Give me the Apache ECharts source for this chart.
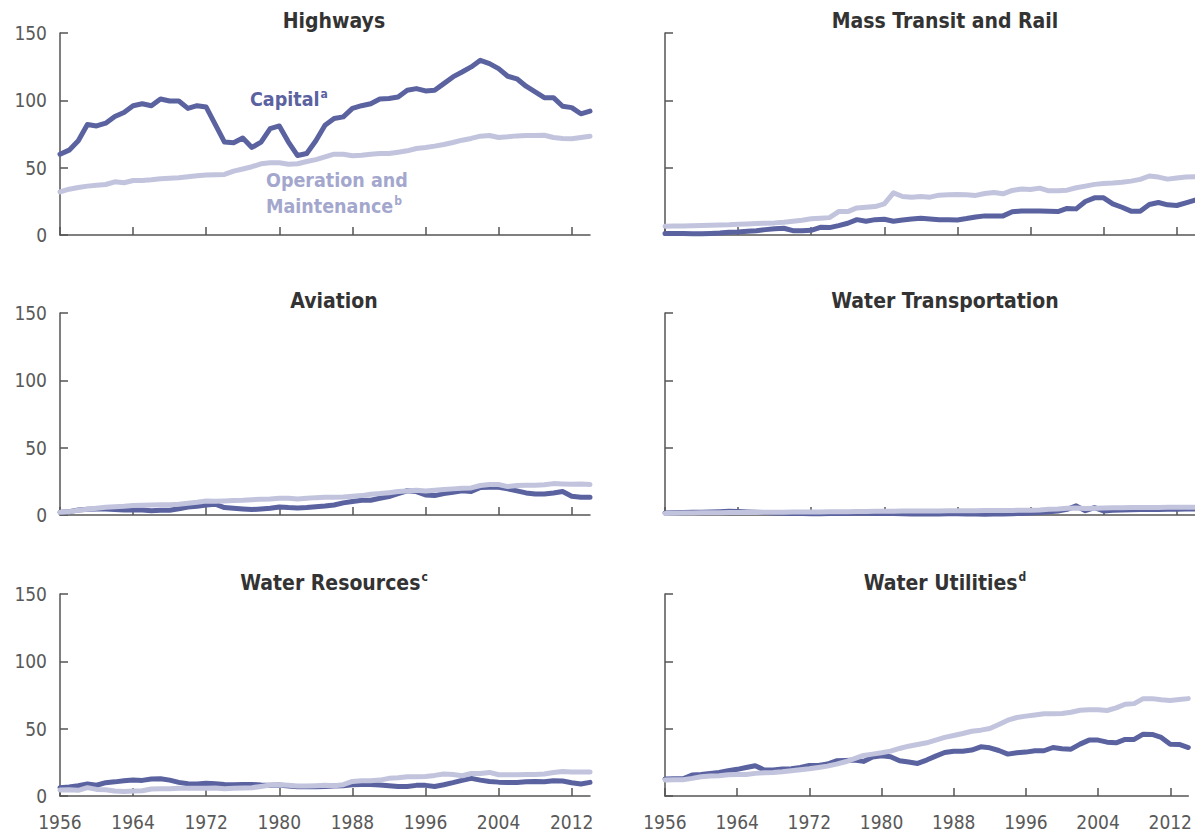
<!DOCTYPE html>
<html>
<head>
<meta charset="utf-8">
<title>Public spending on infrastructure</title>
<script src="https://cdn.jsdelivr.net/npm/echarts@6/dist/echarts.min.js"></script>
<style>
  html, body { margin: 0; padding: 0; background: #fff; }
  #chart { width: 1195px; height: 835px; }
  /* the reference uses a condensed face */
  #chart svg text, #chart svg tspan { font-stretch: condensed !important; }
</style>
</head>
<body>
<div id="chart"></div>
<script>
// years on the x axis
const years = [
  '1956','1957','1958','1959','1960','1961','1962','1963','1964','1965',
  '1966','1967','1968','1969','1970','1971','1972','1973','1974','1975',
  '1976','1977','1978','1979','1980','1981','1982','1983','1984','1985',
  '1986','1987','1988','1989','1990','1991','1992','1993','1994','1995',
  '1996','1997','1998','1999','2000','2001','2002','2003','2004','2005',
  '2006','2007','2008','2009','2010','2011','2012','2013','2014'
]
const yTicks = [0, 50, 100, 150]

// Highways
const highwaysCapital = [
  60, 63, 70, 82, 81, 83, 88, 91, 96, 97.5,
  96, 101, 99.5, 99.5, 94, 96, 95, 82, 69, 68.5,
  72, 65, 69, 79, 81, 69, 59, 60.5, 70, 81.5,
  86.5, 87.7, 94, 96, 97.5, 101, 101.3, 102.5, 107.5, 108.7,
  107, 107.5, 112.4, 117.4, 121, 124.8, 129.7, 127.3, 123.5, 117.9,
  116, 110.5, 106.3, 102, 102, 95.6, 94.6, 90, 92
]
const highwaysOM = [
  32, 34, 35.3, 36.3, 37, 37.5, 39.5, 38.8, 40.5, 40.5,
  41, 41.8, 42.2, 42.5, 43.2, 44, 44.5, 44.7, 45, 47.4,
  49, 50.7, 52.9, 53.6, 53.6, 52.6, 52.9, 54.6, 56, 58,
  60, 60, 58.8, 59.3, 60, 60.5, 60.5, 61.5, 62.5, 64.2,
  65, 66, 67.2, 68.7, 70.4, 71.7, 73.4, 73.9, 72.4, 72.9,
  73.6, 73.9, 73.9, 74.1, 72.4, 71.7, 71.4, 72.4, 73.4
]

// Mass Transit and Rail
const transitCapital = [
  1.2, 1.2, 1.2, 1, 1, 1.2, 1.5, 2, 2.2, 2.7,
  3.2, 4, 4.7, 5, 3.2, 3.2, 3.5, 5.7, 5.5, 7,
  8.7, 11.4, 10.2, 11.4, 11.7, 10.2, 11.2, 11.9, 12.4, 11.9,
  11.4, 11.4, 11.2, 12.2, 13.4, 14.2, 14.2, 14.2, 17.2, 17.9,
  17.9, 17.9, 17.7, 17.4, 19.7, 19.4, 24.9, 27.6, 27.6, 23.1,
  20.6, 17.7, 17.7, 22.6, 24.1, 22.4, 21.9, 23.9, 25.9
]
const transitOM = [
  6.5, 6.6, 6.7, 6.9, 7, 7.2, 7.4, 7.6, 8, 8.2,
  8.5, 8.8, 9, 9.5, 10.2, 11, 12, 12.4, 12.9, 17.4,
  17.4, 20.1, 20.6, 21.1, 23.1, 31.3, 28.6, 28.1, 28.6, 28.1,
  29.6, 29.9, 30.1, 29.9, 29.4, 30.8, 31.6, 30.6, 33.1, 34.1,
  33.8, 34.8, 32.8, 32.8, 33.3, 35.1, 36.3, 37.6, 38.3, 38.6,
  39.1, 40, 41.3, 43.8, 43, 41.5, 42.3, 43, 43.3
]

// Aviation
const aviationCapital = [
  2, 2.5, 3.7, 4.2, 4.5, 4.5, 4, 3.7, 3.7, 3.7,
  3.2, 3.5, 3.5, 4.7, 6, 6.5, 7.4, 8, 5.5, 5,
  4.5, 4, 4.5, 5, 6, 5.5, 5.2, 5.5, 6.2, 6.7,
  7.4, 9, 10, 11, 11, 12.4, 13.7, 15.9, 18, 17.4,
  14.9, 14.4, 15.9, 16.9, 18, 17.4, 20.4, 20.6, 20.6, 19.4,
  17.9, 16.4, 15.6, 15.6, 16.4, 17.4, 13.9, 13.2, 13.2
]
const aviationOM = [
  2, 2.5, 3.5, 4.2, 5, 5.7, 6.2, 6.5, 7, 7.2,
  7.4, 7.7, 7.7, 8, 8.7, 9.4, 10.4, 10.2, 10.4, 10.7,
  10.9, 11.4, 11.7, 11.9, 12.4, 12.4, 11.9, 12.4, 12.9, 13.2,
  13.2, 13.4, 13.9, 14.4, 15.4, 15.9, 16.6, 17.4, 17.9, 18.4,
  17.9, 18.4, 18.9, 19.4, 19.9, 20.1, 21.9, 22.6, 22.6, 21.1,
  21.9, 22.1, 22.1, 22.4, 23.3, 23.1, 22.8, 23.1, 22.6
]

// Water Transportation
const waterTransCapital = [
  1.5, 1.6, 1.8, 2, 2, 2.2, 2.5, 2.8, 2.6, 2.3,
  2, 1.8, 1.5, 1.3, 1.2, 1.1, 1, 1, 1.1, 1.2,
  1.2, 1.3, 1.3, 1.2, 1.3, 1.1, 0.9, 0.8, 0.7, 0.7,
  0.8, 0.9, 0.9, 0.8, 0.7, 0.6, 0.7, 0.8, 1, 1.2,
  1.5, 1.9, 2.4, 3, 4.2, 6.8, 3.2, 5.5, 3, 3.5,
  3.8, 3.9, 4, 4.2, 4.1, 4.3, 4.2, 4.4, 4.5
]
const waterTransOM = [
  1.2, 1.3, 1.4, 1.5, 1.6, 1.6, 1.7, 1.8, 1.8, 1.9,
  1.9, 2, 2, 2.1, 2.2, 2.2, 2.3, 2.3, 2.4, 2.5,
  2.5, 2.6, 2.6, 2.7, 2.8, 2.8, 2.9, 2.9, 3, 3,
  3, 3.1, 3.1, 3.2, 3.2, 3.3, 3.3, 3.4, 3.4, 3.5,
  3.6, 3.8, 4.2, 4.5, 5, 5.2, 4.8, 5, 5.2, 5.3,
  5.4, 5.5, 5.5, 5.6, 5.6, 5.7, 5.7, 5.8, 5.8
]

// Water Resources
const waterResCapital = [
  6.2, 6.7, 7.6, 8.9, 8, 9.9, 10.5, 11.3, 11.8, 11.6,
  12.6, 12.8, 11.8, 10.1, 9.1, 8.9, 9.4, 9.1, 8.6, 8.4,
  8.6, 8.6, 8.1, 7.9, 8.1, 7.4, 6.9, 6.9, 6.9, 7.1,
  7.4, 7.6, 8.4, 8.6, 8.6, 8.1, 7.6, 7.1, 7.1, 7.9,
  7.9, 7.1, 8.4, 9.9, 11.6, 13.1, 11.8, 10.8, 10.3, 10.1,
  10.1, 10.6, 10.8, 10.6, 11.3, 11.1, 9.9, 8.9, 10.1
]
const waterResOM = [
  4.4, 4.7, 4.2, 6.2, 4.9, 4.7, 3.7, 3.4, 3.7, 3.9,
  5.2, 5.4, 5.4, 5.7, 5.7, 5.7, 5.7, 5.9, 5.4, 5.7,
  5.9, 6.2, 7.1, 8.1, 8.4, 7.9, 7.4, 7.4, 7.6, 7.9,
  7.6, 8.4, 10.8, 11.3, 11.3, 11.8, 13.1, 13.5, 14.3, 14.3,
  14.5, 15.3, 16.3, 16, 15, 16.7, 16.7, 17.5, 15.8, 15.8,
  15.8, 16, 16, 16.3, 17.5, 18.2, 17.9, 17.9, 17.9
]

// Water Utilities
const waterUtilCapital = [
  12.6, 12.8, 12.8, 15.6, 16, 16.8, 17.5, 18.8, 19.8, 21.2,
  22.5, 19.3, 19.3, 20, 20.2, 21.2, 22.7, 22.7, 23.7, 26.2,
  26.4, 26.7, 25.7, 28.9, 29.9, 29.1, 26.2, 25.2, 24.2, 26.7,
  29.6, 32.3, 33.3, 33.3, 34.1, 36.5, 35.8, 33.8, 31.1, 32.1,
  32.6, 33.6, 33.6, 36, 35.1, 34.8, 38.5, 41.5, 41.5, 40,
  39.5, 42, 42, 45.9, 45.7, 43.5, 38.5, 38.3, 36
]
const waterUtilOM = [
  11.9, 12.1, 12.1, 13.1, 14.3, 14.8, 15.1, 15.8, 16, 16,
  16.8, 17.3, 17.5, 18, 18.8, 19.5, 20.2, 21.2, 22.2, 23.7,
  25.4, 27.7, 30.1, 31.1, 32.1, 33.3, 35.3, 37, 38.3, 39.5,
  41.5, 43.5, 44.9, 46.4, 48.1, 48.9, 50.1, 53.1, 56.3, 58.3,
  59.3, 60.2, 61, 61, 61.2, 62.2, 63.7, 64, 64, 63.5,
  65.4, 68.1, 68.6, 72.3, 72.3, 71.4, 70.9, 71.6, 72.3
]

const FONT = "'Liberation Sans Narrow', 'DejaVu Sans Condensed', 'DejaVu Sans', sans-serif"
const DARK = '#5a62a0'
const LIGHT = '#c2c4de'
const AXIS = '#555'

// one panel per category
const panels = [
  { left: 60, top: 33, title: 'Highways', cap: highwaysCapital, om: highwaysOM },
  { left: 665, top: 33, title: 'Mass Transit and Rail', cap: transitCapital, om: transitOM },
  { left: 60, top: 313, title: 'Aviation', cap: aviationCapital, om: aviationOM },
  { left: 665, top: 313, title: 'Water Transportation', cap: waterTransCapital, om: waterTransOM },
  { left: 60, top: 594, title: 'Water Resources{sup|c}', cap: waterResCapital, om: waterResOM },
  { left: 665, top: 594, title: 'Water Utilities{sup|d}', cap: waterUtilCapital, om: waterUtilOM },
]
const PW = 530
const PH = 202

const grids = []
const xAxes = []
const yAxes = []
const series = []
const titles = []

panels.forEach((p, i) => {
  const isLeft = i % 2 === 0
  const isBottom = i >= 4
  grids.push({ left: p.left, top: p.top, width: PW, height: PH })
  xAxes.push({
    type: 'category',
    gridIndex: i,
    data: years,
    boundaryGap: false,
    axisLine: { lineStyle: { color: AXIS, width: 1.5 } },
    axisTick: { inside: true, length: 8, interval: 7, lineStyle: { color: AXIS, width: 1.5 } },
    axisLabel: {
      show: isBottom,
      interval: 7,
      margin: 16,
      fontFamily: FONT,
      fontSize: 19,
      color: '#595959',
    },
    splitLine: { show: false },
  })
  yAxes.push({
    type: 'value',
    gridIndex: i,
    min: 0,
    max: 150,
    interval: 50,
    axisLine: { show: true, lineStyle: { color: AXIS, width: 1.5 } },
    axisTick: { show: true, inside: true, length: 8, lineStyle: { color: AXIS, width: 1.5 } },
    axisLabel: {
      show: isLeft,
      margin: 13,
      fontFamily: FONT,
      fontSize: 19,
      color: '#595959',
      formatter: (v) => (yTicks.includes(v) ? String(v) : ''),
    },
    splitLine: { show: false },
  })
  series.push({
    name: 'Capital',
    type: 'line',
    xAxisIndex: i,
    yAxisIndex: i,
    data: p.cap,
    symbol: 'none',
    lineStyle: { color: DARK, width: 5, join: 'round', cap: 'round' },
    z: 2,
  })
  series.push({
    name: 'Operation and Maintenance',
    type: 'line',
    xAxisIndex: i,
    yAxisIndex: i,
    data: p.om,
    symbol: 'none',
    lineStyle: { color: LIGHT, width: 5, join: 'round', cap: 'round' },
    z: 3,
  })
  titles.push({
    text: p.title,
    left: isLeft ? 334 : 945,
    top: p.top - 23,
    padding: 0,
    textAlign: 'center',
    textStyle: {
      fontFamily: FONT,
      fontSize: 21,
      fontWeight: 'bold',
      color: '#333',
      rich: {
        sup: { fontFamily: FONT, fontSize: 12, fontWeight: 'bold', color: '#333', padding: [0, 0, 11, 1] },
      },
    },
  })
})

// series labels inside the Highways panel
titles.push({
  text: 'Capital{sup|a}',
  left: 250,
  top: 88,
  padding: 0,
  textStyle: {
    fontFamily: FONT, fontSize: 19.5, fontWeight: 'bold', color: DARK,
    rich: { sup: { fontFamily: FONT, fontSize: 12, fontWeight: 'bold', color: DARK, padding: [0, 0, 11, 1] } },
  },
})
titles.push({
  text: 'Operation and\nMaintenance{sup|b}',
  left: 266,
  top: 167,
  padding: 0,
  textStyle: {
    fontFamily: FONT, fontSize: 19.5, fontWeight: 'bold', color: '#a4a7cd', lineHeight: 26,
    rich: { sup: { fontFamily: FONT, fontSize: 12, fontWeight: 'bold', color: '#a4a7cd', padding: [0, 0, 11, 1] } },
  },
})

const chart = echarts.init(document.getElementById('chart'), null, { renderer: 'svg' })
chart.setOption({
  animation: false,
  backgroundColor: '#fff',
  title: titles,
  grid: grids,
  xAxis: xAxes,
  yAxis: yAxes,
  series: series,
})
</script>
</body>
</html>
